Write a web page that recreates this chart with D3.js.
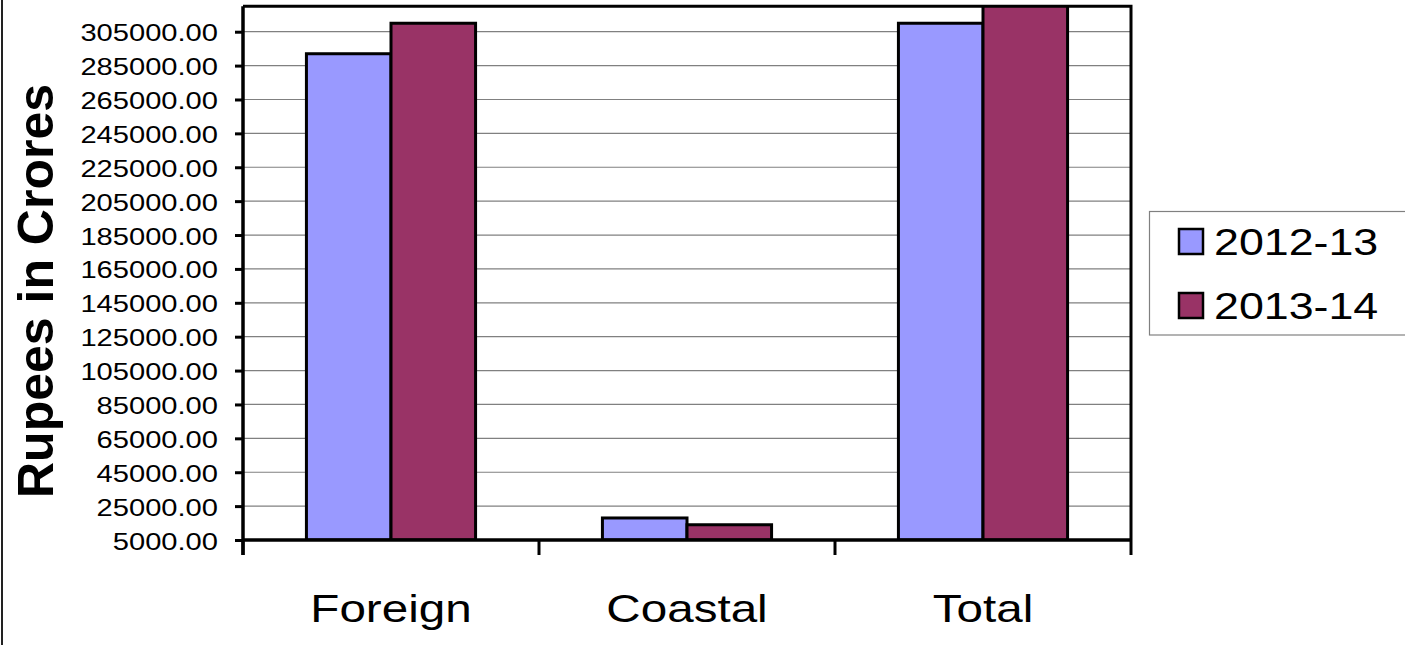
<!DOCTYPE html>
<html>
<head>
<meta charset="utf-8">
<script src="https://cdn.jsdelivr.net/npm/d3@7"></script>
<style>
  html, body { margin: 0; padding: 0; background: #fff; }
  svg { display: block; }
  text { font-family: "Liberation Sans", Arial, sans-serif; fill: #000; }
</style>
</head>
<body>
<svg id="chart" width="1405" height="645"></svg>
<script>
// ---- data ----
const categories = ["Foreign", "Coastal", "Total"];
const seriesNames = ["2012-13", "2013-14"];
const values2012 = [292000, 18000, 310000];
const values2013 = [310000, 14000, 324000];
const seriesColors = ["#9999FF", "#993366"];
const yTicks = [5000, 25000, 45000, 65000, 85000, 105000, 125000, 145000, 165000, 185000,
                205000, 225000, 245000, 265000, 285000, 305000];
const yDomain = [5000, 320000];
const yTitle = "Rupees in Crores";

const seriesValues = [values2012, values2013];

// ---- layout ----
const svg = d3.select("#chart");
const plot = { left: 243, right: 1131, top: 6.3, bottom: 540 };
const sxText = 1.23;

const y = d3.scaleLinear().domain(yDomain).range([plot.bottom, plot.top]);
const x0 = d3.scaleBand().domain(categories).range([plot.left, plot.right]).padding(0);
const bw = x0.bandwidth();
const gap = bw * 0.75 / 3.5;
const x1 = d3.scaleBand().domain(seriesNames).range([gap, bw - gap]).padding(0);

// outer left border
svg.append("line").attr("x1", 2).attr("x2", 2).attr("y1", 0).attr("y2", 645)
  .attr("stroke", "#222").attr("stroke-width", 2);

// gridlines
svg.append("g").selectAll("line").data(yTicks.filter(d => d !== yDomain[0])).join("line")
  .attr("x1", plot.left).attr("x2", plot.right)
  .attr("y1", d => y(d)).attr("y2", d => y(d))
  .attr("stroke", "#808080").attr("stroke-width", 1.2);

// clip
svg.append("clipPath").attr("id", "plotclip").append("rect")
  .attr("x", plot.left).attr("y", plot.top).attr("width", plot.right - plot.left).attr("height", plot.bottom - plot.top);

// bars
const barData = [];
categories.forEach((c, i) => seriesNames.forEach((s, j) => barData.push({ c, s, j, v: seriesValues[j][i] })));
svg.append("g").attr("clip-path", "url(#plotclip)").selectAll("rect").data(barData).join("rect")
  .attr("x", d => x0(d.c) + x1(d.s))
  .attr("width", x1.bandwidth())
  .attr("y", d => y(d.v))
  .attr("height", d => y(yDomain[0]) - y(d.v))
  .attr("fill", d => seriesColors[d.j])
  .attr("stroke", "#000").attr("stroke-width", 3);

// plot border top & right
svg.append("path")
  .attr("d", `M${plot.left},${plot.top}H${plot.right}V${plot.bottom}`)
  .attr("fill", "none").attr("stroke", "#000").attr("stroke-width", 3);

// y axis
const yAxis = d3.axisLeft(y).tickValues(yTicks).tickSize(8).tickFormat(d => d3.format(".2f")(d));
const gy = svg.append("g").attr("transform", `translate(${plot.left},0)`).call(yAxis);
gy.select(".domain").attr("stroke", "#000").attr("stroke-width", 3.5)
  .attr("d", `M0,${plot.top}V${plot.bottom + 15}`);
gy.selectAll(".tick line").attr("stroke", "#000").attr("stroke-width", 3);
gy.selectAll(".tick text")
  .attr("x", 0).attr("dy", null).attr("y", 0)
  .attr("font-size", 23.3)
  .attr("text-anchor", "end")
  .attr("transform", `translate(-25,9) scale(1.25,1)`)
  .style("font-family", "Liberation Sans, Arial, sans-serif")
  .attr("fill", "#000");

// x axis
const xAxis = d3.axisBottom(x0).tickSize(0).tickFormat("");
const gx = svg.append("g").attr("transform", `translate(0,${plot.bottom})`).call(xAxis);
gx.select(".domain").attr("stroke", "#000").attr("stroke-width", 3.5).attr("d", `M${plot.left},0H${plot.right}`);
gx.selectAll(".tick").remove();
const boundaries = categories.map(c => x0(c)).concat([x0(categories[categories.length - 1]) + bw]);
gx.selectAll("line.bt").data(boundaries).join("line").attr("class", "bt")
  .attr("x1", d => d).attr("x2", d => d).attr("y1", 0).attr("y2", 15)
  .attr("stroke", "#000").attr("stroke-width", 3);

// category labels
svg.append("g").selectAll("g").data(categories).join("g")
  .attr("transform", d => `translate(${x0(d) + bw / 2},622)`)
  .append("text")
  .attr("text-anchor", "middle")
  .attr("font-size", 38.7)
  .attr("transform", `scale(${sxText},1)`)
  .text(d => d);

// y title
svg.append("text")
  .attr("transform", `translate(53,291) rotate(-90)`)
  .attr("text-anchor", "middle")
  .attr("font-size", 50)
  .attr("font-weight", "bold")
  .text(yTitle);

// legend
const lg = svg.append("g");
lg.append("rect").attr("x", 1149.5).attr("y", 211.5).attr("width", 270).attr("height", 123.5)
  .attr("fill", "#fff").attr("stroke", "#808080").attr("stroke-width", 1.2);
const legendY = [228, 292];
seriesNames.forEach((s, j) => {
  lg.append("rect").attr("x", 1179).attr("y", legendY[j] + 1).attr("width", 24).attr("height", 25)
    .attr("fill", seriesColors[j]).attr("stroke", "#000").attr("stroke-width", 2.5);
  lg.append("g").attr("transform", `translate(1214,${legendY[j] + 27})`)
    .append("text").attr("font-size", 37.3).attr("transform", "scale(1.2,1)").text(s);
});
</script>
</body>
</html>
